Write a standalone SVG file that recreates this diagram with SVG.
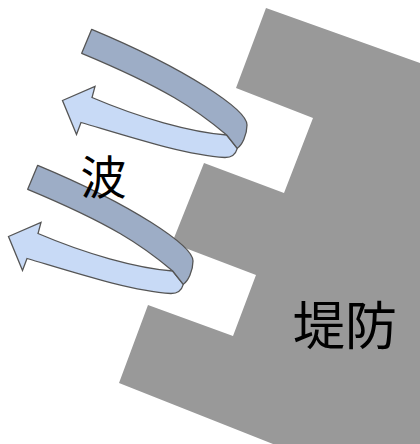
<svg xmlns="http://www.w3.org/2000/svg" xmlns:xlink="http://www.w3.org/1999/xlink" width="420" height="444" viewBox="0 0 420 444">
  <style>
    .dike { fill: #999999; }
    .back { fill: #9dadc6; stroke: #555555; stroke-width: 1.3; stroke-linejoin: round; }
    .front { fill: #c8daf6; stroke: #555555; stroke-width: 1.3; stroke-linejoin: miter; }
    .label { font-family: "Noto Sans CJK JP", "Noto Sans CJK SC", sans-serif; fill: #000000; text-anchor: middle; }
  </style>
  <defs>
    <!-- one curling wave: back band folding into the returning arrow -->
    <g id="wave-shape">
      <path class="front" d="M 226.7,135 C 190,132 140,118 92,97.5 L 95,86.5 L 62.5,100.5 L 76.5,134.5 L 81,122.5 C 130,137 185,155 225,157.5 C 233,157.5 236,153 237.3,148.3 Z"/>
      <path class="back" d="M 91.7,29.3 C 187.7,69.3 247,110 247,125 C 247,135 242,145 237.3,148.3 L 226.7,135 C 196.7,109.5 165.7,88.3 81.7,53.3 Z"/>
    </g>
  </defs>

  <!-- stepped dike face -->
  <g id="dike">
    <polygon class="dike" points="266,8 420,63 420,444 273,444 119,383 148,305 233,336 256,275 172,243 204,163 284,193 313,118 236,88"/>
  </g>

  <g id="waves">
    <g id="wave-upper"><use href="#wave-shape" xlink:href="#wave-shape"/></g>
    <g id="wave-lower"><use href="#wave-shape" xlink:href="#wave-shape" transform="translate(-54,136)"/></g>
  </g>

  <g id="labels">
    <text class="label" x="103.5" y="194" font-size="46">波</text>
    <text class="label" x="345" y="345" font-size="52">堤防</text>
  </g>
</svg>
